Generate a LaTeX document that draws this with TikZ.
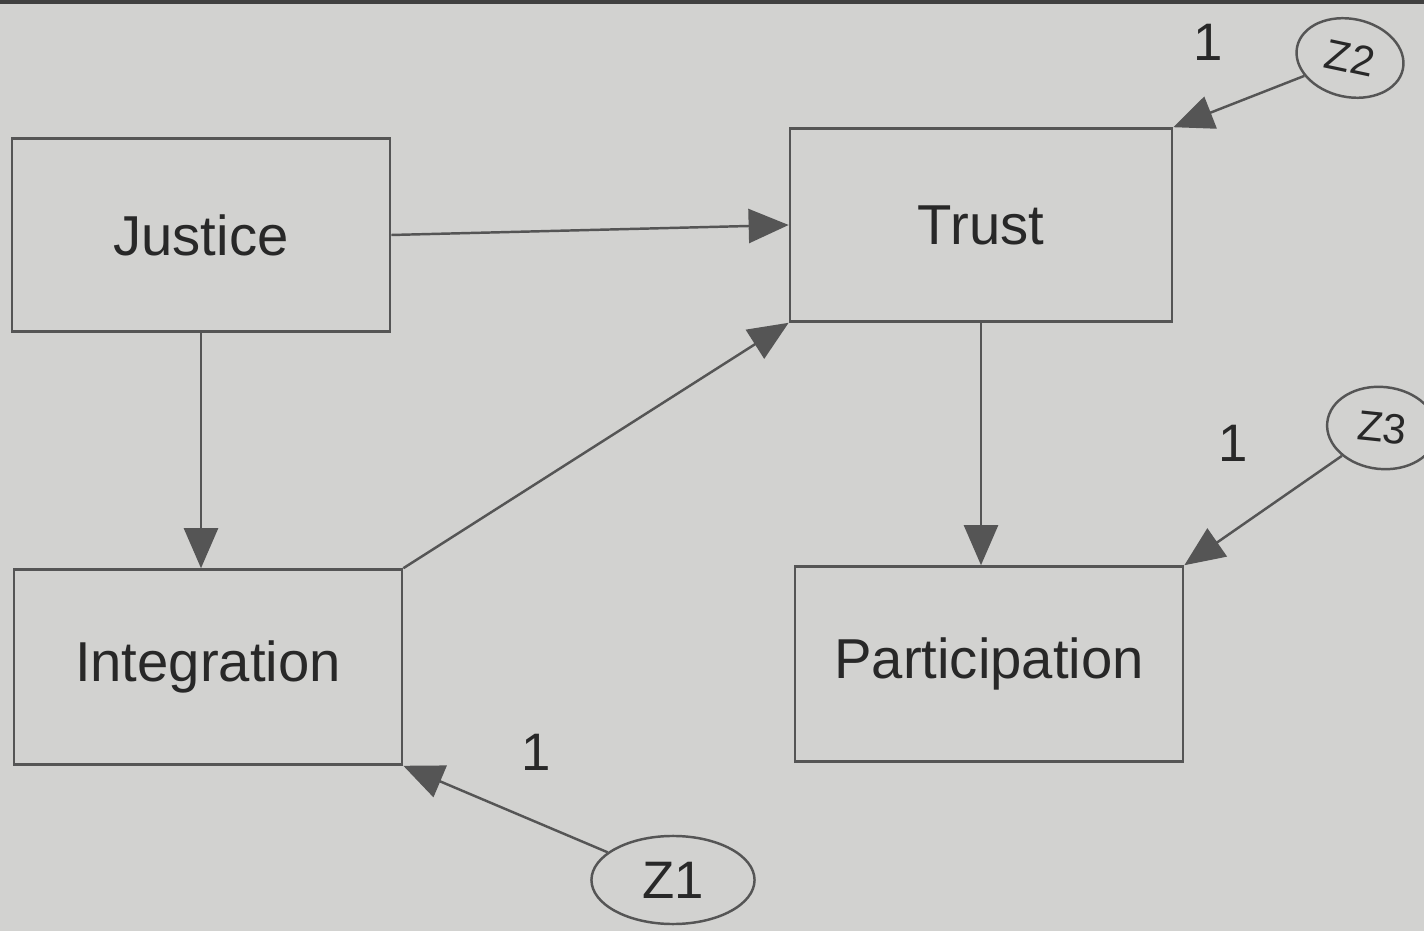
\documentclass[tikz,border=0pt]{standalone}
\usepackage{fontspec}
\setmainfont{Liberation Sans}
\usetikzlibrary{arrows.meta,shapes.geometric}
\definecolor{paper}{RGB}{210,210,208}
\definecolor{ink}{RGB}{40,40,40}
\definecolor{linec}{RGB}{85,85,85}
\tikzset{
  varbox/.style={draw=linec, line width=0.7pt, rectangle, minimum width=3.8cm, minimum height=1.93cm, inner sep=0pt, text=ink, font=\fontsize{16}{19}\selectfont},
  errnode/.style={draw=linec, line width=0.7pt, ellipse, inner sep=0pt, text=ink},
  path/.style={draw=linec, line width=0.7pt, -{Triangle[length=0.4cm,width=0.34cm]}},
  onelab/.style={text=ink, font=\fontsize{15}{18}\selectfont}
}
\begin{document}
\begin{tikzpicture}[x=0.01cm,y=-0.01cm]
\fill[paper] (0,0) rectangle (1424,931);
\fill[black!75] (0,0) rectangle (1424,4);
\useasboundingbox (0,0) rectangle (1424,931);

\node[varbox, minimum width=3.78cm] (justice) at (201,235) {Justice};
\node[varbox, minimum width=3.82cm] (trust) at (981,225) {Trust};
\node[varbox, minimum width=3.88cm, minimum height=1.95cm] (integ) at (208,667) {Integration};
\node[varbox, minimum width=3.88cm, minimum height=1.95cm] (partic) at (989,664) {Participation};

\node[errnode, minimum width=1.63cm, minimum height=0.88cm, font=\fontsize{15}{18}\selectfont] (z1) at (673,880) {Z1};
\node[errnode, minimum width=1.08cm, minimum height=0.78cm, rotate=-12, font=\fontsize{12}{14}\selectfont] (z2) at (1350,58) {Z2};
\node[errnode, minimum width=1.1cm, minimum height=0.82cm, rotate=-6, font=\fontsize{12}{14}\selectfont] (z3) at (1382,428) {Z3};

\draw[path] (justice.east) -- (trust.west);
\draw[path] (justice.south) -- (justice.south |- integ.north);
\draw[path] (integ.north east) -- (trust.south west);
\draw[path] (trust.south) -- (trust.south |- partic.north);
\draw[path] (z2) -- (trust.north east);
\draw[path] (z3) -- (partic.north east);
\draw[path] (z1) -- (integ.south east);

\node[onelab] (one2) at (1208,42) {1};
\node[onelab] (one3) at (1233,443) {1};
\node[onelab] (one1) at (536,752) {1};
\end{tikzpicture}
\end{document}
